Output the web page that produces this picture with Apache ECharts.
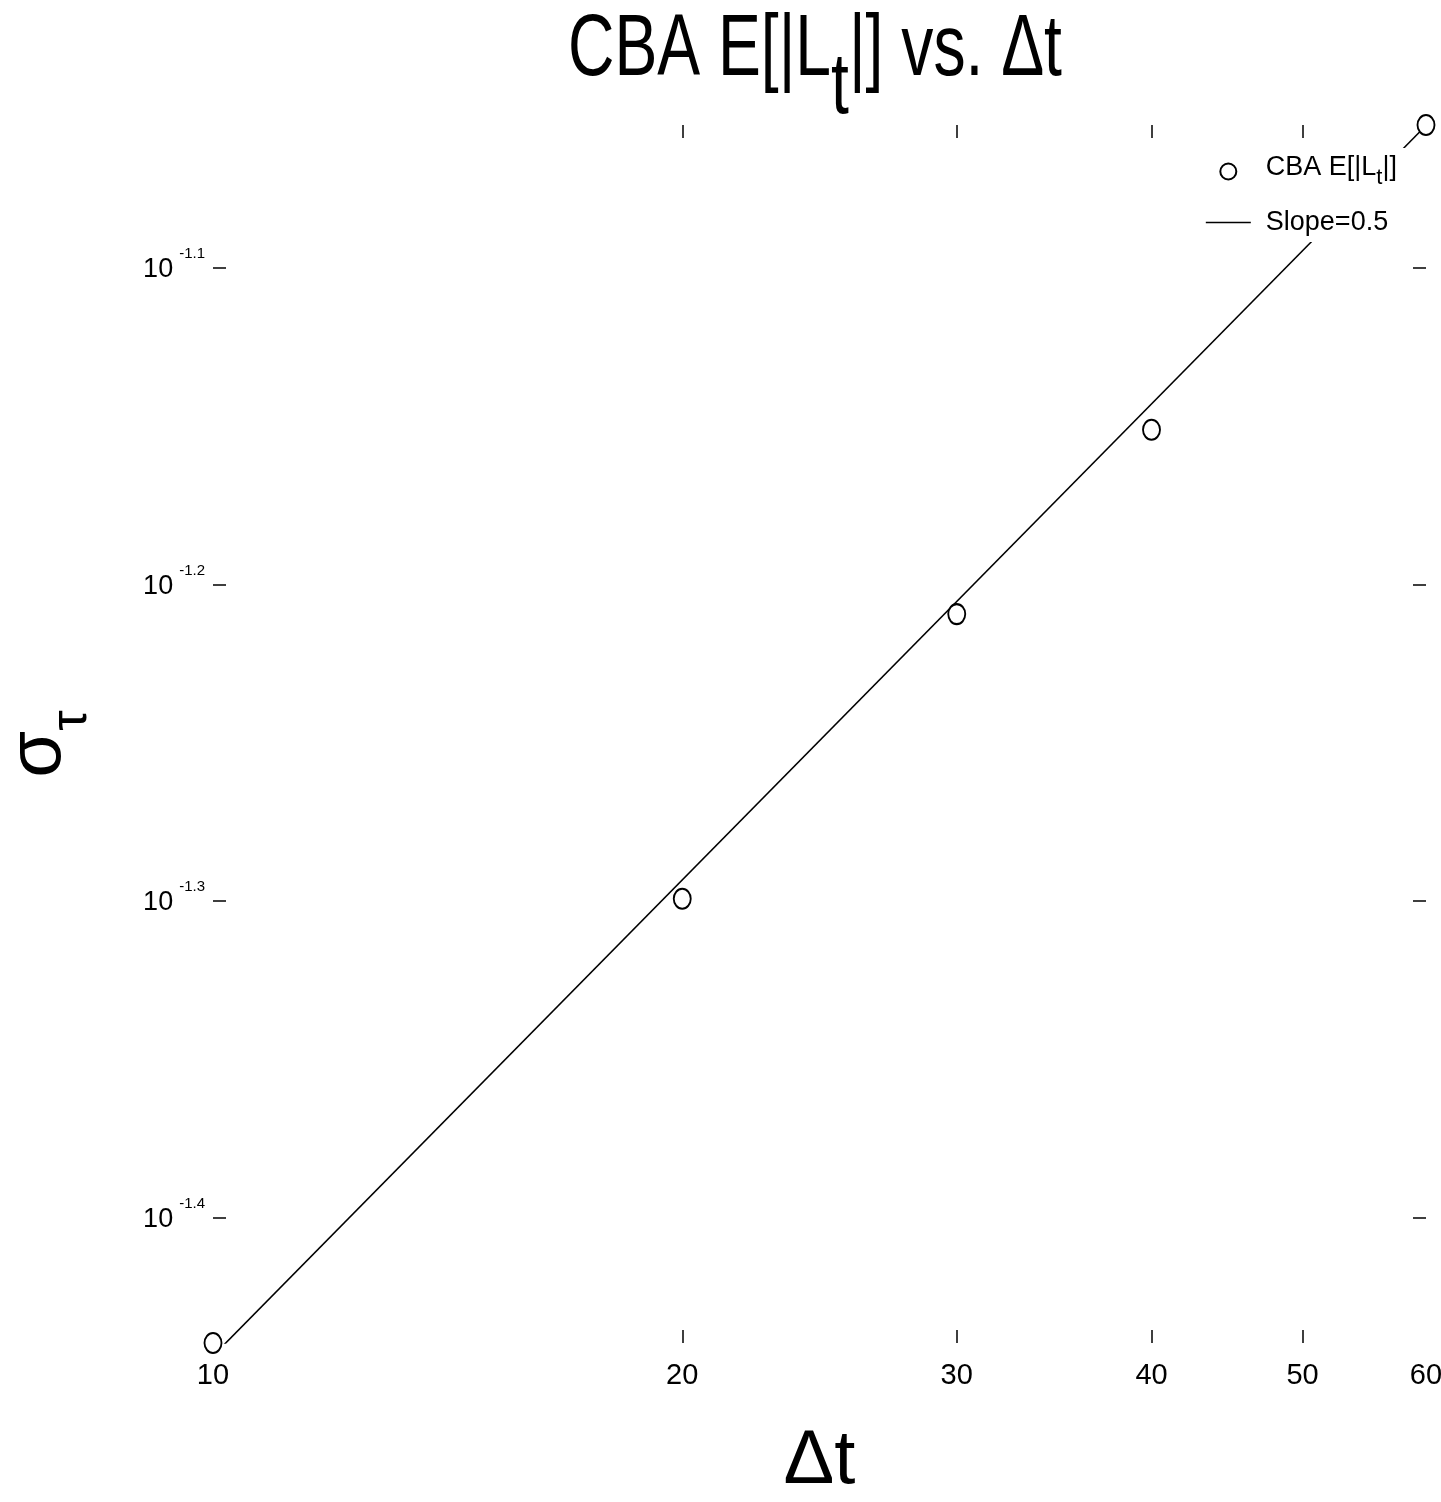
<!DOCTYPE html>
<html>
<head>
<meta charset="utf-8">
<script src="https://cdn.jsdelivr.net/npm/echarts@6/dist/echarts.min.js"></script>
<style>
html,body{margin:0;padding:0;background:#fff;}
#chart{width:1441px;height:1502px;}
</style>
</head>
<body>
<div id="chart"></div>
<script>
// ---- data ----
const dtValues = [10, 20, 30, 40, 60];
const sigmaValues = [0.03634, 0.05020, 0.06175, 0.07061, 0.08813];
const slopeLineDt = [10, 60];
const slopeLineSigma = [0.0360, 0.0881];
const xTickLabels = [10, 20, 30, 40, 50, 60];
const xInnerTicks = [20, 30, 40, 50];
const yTickExponents = [-1.4, -1.3, -1.2, -1.1];
const seriesNames = ['cba', 'slope'];

const FONT = '"Liberation Sans Narrow", "Liberation Sans", Arial, sans-serif';
const lg = Math.log10;

const xMin = lg(Math.min(...dtValues));
const xMax = lg(Math.max(...dtValues));
const yMin = lg(Math.min(...sigmaValues));
const yMax = lg(Math.max(...sigmaValues));

const scatterData = dtValues.map((d, i) => [lg(d), lg(sigmaValues[i])]);
const lineData = slopeLineDt.map((d, i) => [lg(d), lg(slopeLineSigma[i])]);

const xLabelVals = xTickLabels.map(lg);
const xTickVals = xInnerTicks.map(lg);

const tickStyle = {show: true, inside: true, length: 13, lineStyle: {color: '#000', width: 1.5}};

const chart = echarts.init(document.getElementById('chart'), null, {renderer: 'canvas'});
chart.setOption({
  backgroundColor: '#fff',
  animation: false,
  graphic: [{
    type: 'text',
    x: 568,
    y: 7,
    scaleX: 0.73,
    z: 100,
    style: {
      text: '{n|CBA E[|L}{s|t}{n||] vs. Δt}',
      x: 0, y: 0,
      align: 'left',
      verticalAlign: 'top',
      fill: '#000',
      rich: {
        n: {fontFamily: FONT, fontSize: 88, fill: '#000', verticalAlign: 'top'},
        s: {fontFamily: FONT, fontSize: 88, fill: '#000', verticalAlign: 'top', padding: [38, 0, 0, 0]}
      }
    }
  }],
  legend: {
    orient: 'vertical',
    right: 31,
    top: 148,
    backgroundColor: '#fff',
    padding: [6, 13, 6, 8],
    itemWidth: 45,
    itemHeight: 16,
    itemGap: 20,
    data: [
      {name: seriesNames[0]},
      {name: seriesNames[1], icon: 'path://M0,0L45,0L45,1.6L0,1.6Z'}
    ],
    formatter: function (name) {
      if (name === 'cba') return '{n|CBA E[|L}{s|t}{m||]}';
      return '{p|Slope=0.5}';
    },
    textStyle: {
      color: '#000',
      rich: {
        n: {fontFamily: FONT, fontSize: 27, color: '#000', verticalAlign: 'top', padding: [0, 0, 0, 10]},
        m: {fontFamily: FONT, fontSize: 27, color: '#000', verticalAlign: 'top'},
        s: {fontFamily: FONT, fontSize: 22, color: '#000', verticalAlign: 'top', padding: [13, 0, 0, 0]},
        p: {fontFamily: FONT, fontSize: 27, color: '#000', padding: [0, 0, 0, 10]}
      }
    }
  },
  grid: {left: 213, right: 15, top: 125, bottom: 159, containLabel: false, outerBoundsMode: 'none'},
  xAxis: [{
    type: 'value',
    min: xMin, max: xMax,
    position: 'bottom',
    axisLine: {show: false},
    splitLine: {show: false},
    axisTick: Object.assign({customValues: xTickVals}, tickStyle),
    axisLabel: {
      customValues: xLabelVals,
      margin: 18,
      fontFamily: FONT, fontSize: 29, color: '#000',
      formatter: v => String(Math.round(Math.pow(10, v)))
    },
    name: 'Δt',
    nameLocation: 'middle',
    nameGap: 81,
    nameTextStyle: {fontFamily: FONT, fontSize: 76, color: '#000'}
  }, {
    type: 'value',
    min: xMin, max: xMax,
    position: 'top',
    axisLine: {show: false},
    splitLine: {show: false},
    axisTick: Object.assign({customValues: xTickVals}, tickStyle),
    axisLabel: {show: false}
  }],
  yAxis: [{
    type: 'value',
    min: yMin, max: yMax,
    position: 'left',
    axisLine: {show: false},
    splitLine: {show: false},
    axisTick: Object.assign({customValues: yTickExponents}, tickStyle),
    axisLabel: {
      customValues: yTickExponents,
      margin: 8,
      formatter: v => '{b|10}{s|' + v.toFixed(1) + '}',
      rich: {
        b: {fontFamily: FONT, fontSize: 27, color: '#000', verticalAlign: 'top', padding: [10, 0, 6, 0]},
        s: {fontFamily: FONT, fontSize: 15, color: '#000', verticalAlign: 'top', padding: [0, 0, 0, 6]}
      }
    },
    name: '{a|σ}{b|τ}',
    nameLocation: 'middle',
    nameRotate: 90,
    nameGap: 115,
    nameTextStyle: {
      rich: {
        a: {fontFamily: FONT, fontSize: 76, color: '#000', verticalAlign: 'top'},
        b: {fontFamily: FONT, fontSize: 52, color: '#000', verticalAlign: 'top', padding: [45, 20, 0, 0]}
      }
    }
  }, {
    type: 'value',
    min: yMin, max: yMax,
    position: 'right',
    axisLine: {show: false},
    splitLine: {show: false},
    axisTick: Object.assign({customValues: yTickExponents}, tickStyle),
    axisLabel: {show: false}
  }],
  series: [{
    name: 'slope',
    type: 'line',
    data: lineData,
    xAxisIndex: 0, yAxisIndex: 0,
    symbol: 'none',
    showSymbol: false,
    clip: true,
    lineStyle: {color: '#000', width: 1.6},
    itemStyle: {color: '#000'},
    z: 2
  }, {
    name: 'cba',
    type: 'scatter',
    data: scatterData,
    xAxisIndex: 0, yAxisIndex: 0,
    symbol: 'circle',
    symbolSize: [17, 20],
    clip: false,
    itemStyle: {color: '#fff', borderColor: '#000', borderWidth: 2, opacity: 1},
    z: 3
  }]
});
</script>
</body>
</html>
